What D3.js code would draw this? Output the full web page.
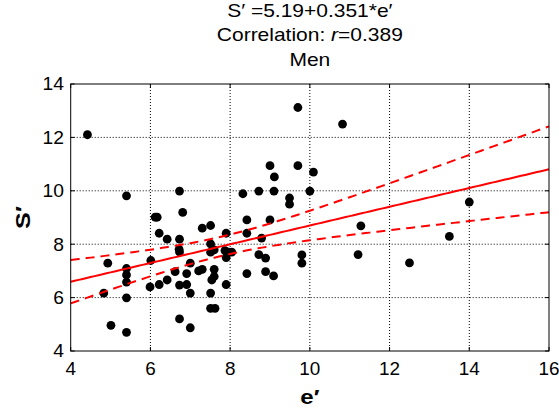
<!DOCTYPE html>
<html>
<head>
<meta charset="utf-8">
<script src="https://cdn.jsdelivr.net/npm/d3@7"></script>
<style>
  body { margin: 0; background: #fff; }
  text { font-family: "Liberation Sans", Arial, sans-serif; fill: #000; }
</style>
</head>
<body>
<div id="chart"></div>
<script>
// Data (e', S')
const ePrime = [
  4.42, 4.83, 4.93, 5.01, 5.40, 5.40, 5.40, 5.40, 5.40, 5.40,
  6.01, 5.99, 6.12, 6.17, 6.22, 6.22, 6.42, 6.42, 6.62, 6.73,
  6.81, 6.73, 6.72, 6.73, 6.73, 6.73, 6.91, 6.91, 7.00, 7.00,
  7.00, 7.21, 7.30, 7.30, 7.51, 7.51, 7.51, 7.60, 7.60, 7.60,
  7.54, 7.51, 7.51, 7.62, 7.90, 7.87, 7.96, 8.04, 7.90, 7.90,
  8.32, 8.42, 8.42, 8.42, 8.72, 8.72, 8.79, 8.89, 8.89, 9.00,
  9.00, 9.10, 9.11, 9.09, 9.49, 9.49, 9.70, 9.70, 9.80, 9.80,
  10.00, 10.09, 10.82, 11.28, 11.21, 12.50, 13.50, 14.00
];
const sPrime = [
  12.10, 6.17, 7.29, 4.96, 9.81, 7.09, 6.85, 6.58, 5.99, 4.70,
  7.39, 6.40, 9.01, 9.01, 8.41, 6.49, 8.19, 6.66, 6.97, 9.99,
  9.19, 8.19, 7.81, 7.71, 6.47, 5.20, 6.90, 6.49, 7.29, 6.17,
  4.87, 7.00, 7.06, 8.60, 8.70, 8.01, 7.70, 7.79, 7.06, 6.79,
  6.66, 6.17, 5.60, 5.60, 8.41, 7.76, 7.70, 7.70, 7.50, 6.49,
  9.89, 8.91, 8.41, 6.90, 9.99, 7.61, 8.23, 7.48, 6.97, 10.94,
  8.91, 9.99, 10.52, 6.81, 9.73, 9.50, 13.12, 10.94, 7.60, 7.29,
  9.99, 10.70, 12.50, 8.69, 7.61, 7.30, 8.29, 9.58
];
const xTicks = [4, 6, 8, 10, 12, 14, 16];
const yTicks = [4, 6, 8, 10, 12, 14];
const titleLines = ["S\u2032 =5.19+0.351*e\u2032", "Correlation: ", "Men"];
const intercept = 5.19;
const slope = 0.351;

const width = 559, height = 411;
const pLeft = 70.7, pRight = 549, pTop = 84, pBottom = 351;
const stretch = 1.2; // text in the reference is wider than it is tall

const svg = d3.select('#chart').append('svg')
    .attr('width', width)
    .attr('height', height);

const x = d3.scaleLinear().domain([4, 16]).range([pLeft, pRight]);
const y = d3.scaleLinear().domain([4, 14]).range([pBottom, pTop]);

function label(g, tx, ty, str, opts = {}) {
    const t = g.append('text')
        .attr('transform', `translate(${tx},${ty}) ${opts.rotate ? 'rotate(' + opts.rotate + ')' : ''} scale(${opts.stretch || stretch},1)`)
        .attr('text-anchor', opts.anchor || 'middle')
        .style('font-size', (opts.size || 17.5) + 'px')
        .style('font-weight', opts.bold ? 'bold' : 'normal');
    if (str !== null) t.text(str);
    return t;
}

// Grid
const grid = svg.append('g');
grid.selectAll('.gx').data(xTicks.slice(1, -1)).enter().append('line')
    .attr('x1', d => x(d)).attr('x2', d => x(d))
    .attr('y1', pTop).attr('y2', pBottom)
    .style('stroke', '#000').style('stroke-width', 1)
    .style('stroke-dasharray', '1,2');
grid.selectAll('.gy').data(yTicks.slice(1, -1)).enter().append('line')
    .attr('x1', pLeft).attr('x2', pRight)
    .attr('y1', d => y(d)).attr('y2', d => y(d))
    .style('stroke', '#000').style('stroke-width', 1)
    .style('stroke-dasharray', '1,2');

// Confidence band for the fitted mean (95%)
const n = ePrime.length;
const xbar = d3.mean(ePrime);
const sxx = d3.sum(ePrime, v => (v - xbar) * (v - xbar));
const sse = d3.sum(ePrime.map((v, i) => {
    const r = sPrime[i] - (intercept + slope * v);
    return r * r;
}));
const sRes = Math.sqrt(sse / (n - 2));
const tCrit = 1.992;
const halfWidth = v => tCrit * sRes * Math.sqrt(1 / n + (v - xbar) * (v - xbar) / sxx);
const xs = d3.range(0, 121).map(i => 4 + i * 0.1);

const plot = svg.append('g');

// Points
plot.selectAll('.pt').data(ePrime).enter().append('circle')
    .attr('cx', d => x(d))
    .attr('cy', (d, i) => y(sPrime[i]))
    .attr('r', 4.4)
    .style('fill', '#000');

const line = d3.line().x(d => x(d[0])).y(d => y(d[1]));
plot.append('path')
    .attr('d', line(xs.map(v => [v, intercept + slope * v])))
    .style('fill', 'none').style('stroke', '#ff0000').style('stroke-width', 2);
[1, -1].forEach(sign => {
    plot.append('path')
        .attr('d', line(xs.map(v => [v, intercept + slope * v + sign * halfWidth(v)])))
        .style('fill', 'none').style('stroke', '#ff0000').style('stroke-width', 2)
        .style('stroke-dasharray', '9,6');
});

// Box and inward ticks
const axes = svg.append('g');
axes.append('rect')
    .attr('x', pLeft).attr('y', pTop)
    .attr('width', pRight - pLeft).attr('height', pBottom - pTop)
    .style('fill', 'none').style('stroke', '#000').style('stroke-width', 1);
xTicks.forEach(d => {
    axes.append('line').attr('x1', x(d)).attr('x2', x(d)).attr('y1', pBottom).attr('y2', pBottom - 4)
        .style('stroke', '#000');
    axes.append('line').attr('x1', x(d)).attr('x2', x(d)).attr('y1', pTop).attr('y2', pTop + 4)
        .style('stroke', '#000');
    label(axes, x(d), 375, String(d), { stretch: 1.08 });
});
yTicks.forEach(d => {
    axes.append('line').attr('x1', pLeft).attr('x2', pLeft + 4).attr('y1', y(d)).attr('y2', y(d))
        .style('stroke', '#000');
    axes.append('line').attr('x1', pRight).attr('x2', pRight - 4).attr('y1', y(d)).attr('y2', y(d))
        .style('stroke', '#000');
    label(axes, 64, y(d) + 6.3, String(d), { anchor: 'end', stretch: 1.1 });
});

// Axis titles
label(svg, (pLeft + pRight) / 2, 404, 'e\u2032', { bold: true, size: 20 });
label(svg, 30, (pTop + pBottom) / 2, 'S\u2032', { bold: true, size: 21, rotate: -90 });

// Title
const cx = (pLeft + pRight) / 2;
label(svg, cx, 17, titleLines[0]);
const t2 = label(svg, cx, 41, null);
t2.append('tspan').text(titleLines[1]);
t2.append('tspan').style('font-style', 'italic').text('r');
t2.append('tspan').text('=0.389');
label(svg, cx, 66, titleLines[2]);
</script>
</body>
</html>
